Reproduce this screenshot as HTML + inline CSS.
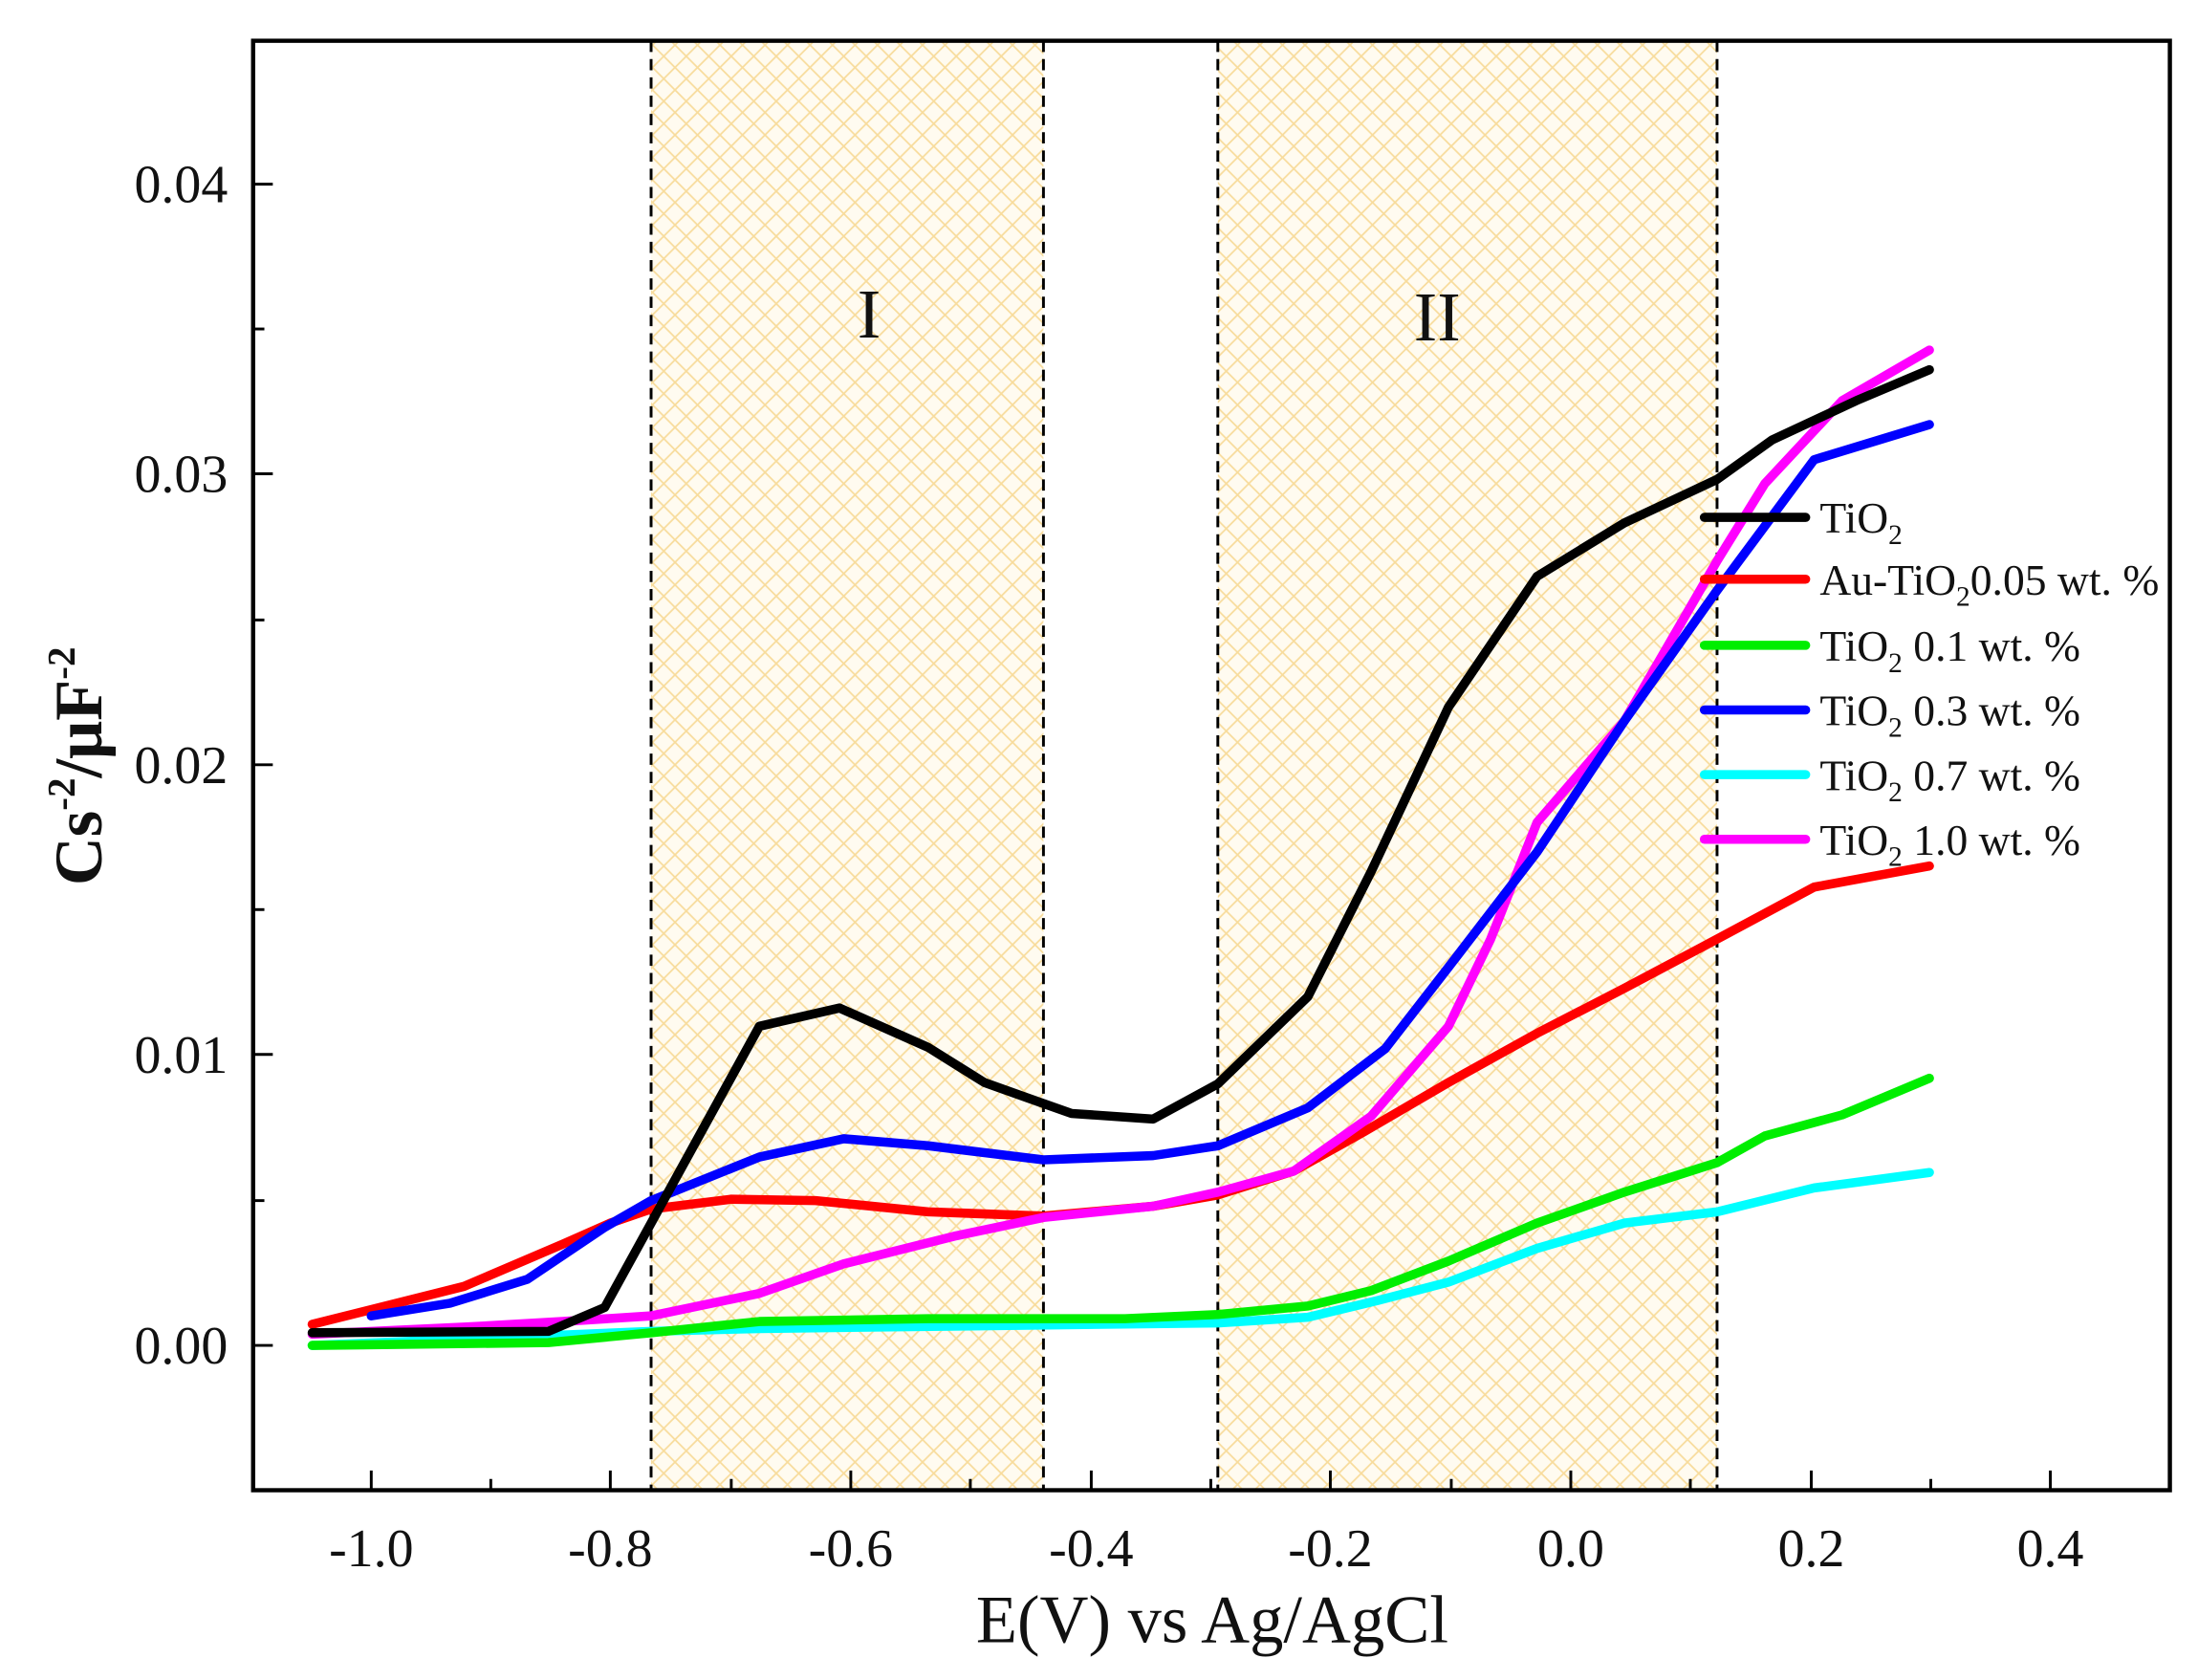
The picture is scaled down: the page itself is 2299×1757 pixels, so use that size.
<!DOCTYPE html>
<html><head><meta charset="utf-8"><style>
html,body{margin:0;padding:0;background:#fff}
svg{display:block}
text{font-family:"Liberation Serif",serif;fill:#111}
</style></head><body>
<svg width="2299" height="1757" viewBox="0 0 1563 1195" preserveAspectRatio="none" xmlns="http://www.w3.org/2000/svg">
<defs>
<pattern id="hatch" width="16" height="16" patternUnits="userSpaceOnUse">
<rect width="16" height="16" fill="#fffbf0"/>
<path d="M0,0 L16,16 M16,0 L0,16" stroke="#f8dc9c" stroke-width="1.2"/>
</pattern>
</defs>
<rect x="463" y="29" width="279" height="1031" fill="url(#hatch)"/>
<rect x="866" y="29" width="355" height="1031" fill="url(#hatch)"/>
<g stroke="#000" stroke-width="2" stroke-dasharray="8,5">
<line x1="463" y1="29" x2="463" y2="1060"/><line x1="742" y1="29" x2="742" y2="1060"/>
<line x1="866" y1="29" x2="866" y2="1060"/><line x1="1221" y1="29" x2="1221" y2="1060"/>
</g>
<text x="618" y="240" font-size="50" text-anchor="middle">I</text>
<text x="1022" y="242" font-size="50" text-anchor="middle">II</text>
<g fill="none" stroke-width="6.5" stroke-linejoin="round" stroke-linecap="round">
<polyline stroke="#00ffff" points="222,957 463,947 540,945 866,941 930,937 980,925 1030,912 1093,888 1155,870 1221,862 1290,845 1372,834"/>
<polyline stroke="#00ee00" points="222,957 390,955 463,948 540,940 660,938 800,938 866,935 930,929 975,918 1030,897 1093,870 1155,848 1221,827 1255,808 1310,793 1372,767"/>
<polyline stroke="#ff0000" points="222,942 330,915 400,885 434,870 463,860 520,853 580,854 660,862 742,865 820,858 866,850 920,833 970,805 1030,770 1093,735 1155,703 1221,668 1290,631 1372,616"/>
<polyline stroke="#ff00ff" points="222,949 330,944 400,940 463,936 540,920 600,899 680,879 742,866 820,858 866,848 920,833 975,794 1030,730 1060,668 1093,585 1155,513 1221,399 1255,344 1310,285 1372,249"/>
<polyline stroke="#0000ff" points="264,936 320,927 375,910 430,873 463,854 540,823 600,810 660,815 742,825 820,822 866,815 930,788 985,746 1030,688 1093,606 1155,513 1221,420 1290,327 1372,302"/>
<polyline stroke="#000" points="222,948 390,947 430,930 463,870 540,730 597,717 660,745 700,770 742,785 762,792 820,796 866,771 930,709 975,620 1030,503 1093,410 1155,372 1221,341 1260,313 1320,285 1372,263"/>
</g>
<rect x="180" y="29" width="1363" height="1031" fill="none" stroke="#000" stroke-width="3"/>
<g stroke="#000" stroke-width="2">
<line x1="264" y1="1060" x2="264" y2="1046"/><line x1="434" y1="1060" x2="434" y2="1046"/><line x1="605" y1="1060" x2="605" y2="1046"/><line x1="776" y1="1060" x2="776" y2="1046"/><line x1="946" y1="1060" x2="946" y2="1046"/><line x1="1117" y1="1060" x2="1117" y2="1046"/><line x1="1288" y1="1060" x2="1288" y2="1046"/><line x1="1458" y1="1060" x2="1458" y2="1046"/>
<line x1="349" y1="1060" x2="349" y2="1052"/><line x1="520" y1="1060" x2="520" y2="1052"/><line x1="690" y1="1060" x2="690" y2="1052"/><line x1="861" y1="1060" x2="861" y2="1052"/><line x1="1032" y1="1060" x2="1032" y2="1052"/><line x1="1202" y1="1060" x2="1202" y2="1052"/><line x1="1373" y1="1060" x2="1373" y2="1052"/>
<line x1="180" y1="957" x2="194" y2="957"/><line x1="180" y1="750" x2="194" y2="750"/><line x1="180" y1="544" x2="194" y2="544"/><line x1="180" y1="337" x2="194" y2="337"/><line x1="180" y1="131" x2="194" y2="131"/>
<line x1="180" y1="1060" x2="188" y2="1060"/><line x1="180" y1="854" x2="188" y2="854"/><line x1="180" y1="647" x2="188" y2="647"/><line x1="180" y1="441" x2="188" y2="441"/><line x1="180" y1="234" x2="188" y2="234"/>
</g>
<g font-size="38" text-anchor="end">
<text x="162" y="970">0.00</text><text x="162" y="763">0.01</text><text x="162" y="557">0.02</text><text x="162" y="350">0.03</text><text x="162" y="144">0.04</text>
</g>
<g font-size="38" text-anchor="middle">
<text x="264" y="1114">-1.0</text><text x="434" y="1114">-0.8</text><text x="605" y="1114">-0.6</text><text x="776" y="1114">-0.4</text><text x="946" y="1114">-0.2</text><text x="1117" y="1114">0.0</text><text x="1288" y="1114">0.2</text><text x="1458" y="1114">0.4</text>
</g>
<text x="862" y="1168" font-size="48" text-anchor="middle">E(V) vs Ag/AgCl</text>
<text transform="translate(72,545) rotate(-90)" font-size="48" font-weight="bold" text-anchor="middle">Cs<tspan font-size="28" dy="-19">-2</tspan><tspan dy="19">/μF</tspan><tspan font-size="28" dy="-19">-2</tspan></text>
<g stroke-width="6.5" stroke-linecap="round">
<line x1="1212" y1="368" x2="1284" y2="368" stroke="#000"/>
<line x1="1212" y1="412" x2="1284" y2="412" stroke="#ff0000"/>
<line x1="1212" y1="459" x2="1284" y2="459" stroke="#00ee00"/>
<line x1="1212" y1="505" x2="1284" y2="505" stroke="#0000ff"/>
<line x1="1212" y1="551" x2="1284" y2="551" stroke="#00ffff"/>
<line x1="1212" y1="597" x2="1284" y2="597" stroke="#ff00ff"/>
</g>
<g font-size="31">
<text x="1294" y="379">TiO<tspan font-size="20" dy="8">2</tspan></text>
<text x="1294" y="423">Au-TiO<tspan font-size="20" dy="8">2</tspan><tspan dy="-8">0.05 wt. %</tspan></text>
<text x="1294" y="470">TiO<tspan font-size="20" dy="8">2</tspan><tspan dy="-8"> 0.1 wt. %</tspan></text>
<text x="1294" y="516">TiO<tspan font-size="20" dy="8">2</tspan><tspan dy="-8"> 0.3 wt. %</tspan></text>
<text x="1294" y="562">TiO<tspan font-size="20" dy="8">2</tspan><tspan dy="-8"> 0.7 wt. %</tspan></text>
<text x="1294" y="608">TiO<tspan font-size="20" dy="8">2</tspan><tspan dy="-8"> 1.0 wt. %</tspan></text>
</g>
</svg>
</body></html>
